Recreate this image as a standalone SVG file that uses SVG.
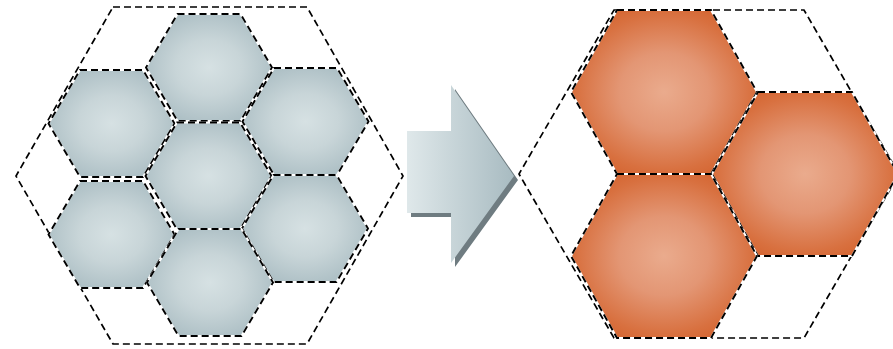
<svg xmlns="http://www.w3.org/2000/svg" xmlns:xlink="http://www.w3.org/1999/xlink" width="893" height="349" viewBox="0 0 893 349">
  <defs>
    <radialGradient id="gGray" cx="0.5" cy="0.5" r="0.58">
      <stop offset="0" stop-color="#d6e1e3"/>
      <stop offset="0.45" stop-color="#c8d5d8"/>
      <stop offset="1" stop-color="#a9bcc2"/>
    </radialGradient>
    <radialGradient id="gOrange" cx="0.5" cy="0.5" r="0.6">
      <stop offset="0" stop-color="#eaab8d"/>
      <stop offset="0.4" stop-color="#e39674"/>
      <stop offset="0.8" stop-color="#d8703f"/>
      <stop offset="1" stop-color="#d3612c"/>
    </radialGradient>
    <linearGradient id="gArrow" x1="0" y1="0" x2="1" y2="0">
      <stop offset="0" stop-color="#dfe8ea"/>
      <stop offset="1" stop-color="#a8bbc1"/>
    </linearGradient>
    <path id="hexS" d="M-31.5,-53.5 L31.5,-53.5 L63,0 L31.5,53.5 L-31.5,53.5 L-63,0 Z"/>
    <path id="hexL" d="M-47,-82 L47,-82 L93,0 L47,82 L-47,82 L-93,0 Z"/>
  </defs>
  <style>
    .big { fill: none; stroke: #000; stroke-width: 1.7; stroke-dasharray: 7 4; }
    .gray { fill: url(#gGray); stroke: #fff; stroke-width: 2; }
    .orange { fill: url(#gOrange); stroke: #fff; stroke-width: 2; }
    .dash { fill: none; stroke: #000; stroke-width: 1.9; stroke-dasharray: 7 4; }
  </style>

  <g id="frame-left">
    <polygon class="big" points="113,7 307,7 403,176 307,344 113,344 16,176"/>
  </g>
  <g id="frame-right">
    <polygon class="big" points="614,10 804,10 899,174 804,338 614,338 519,174"/>
  </g>

  <g id="hex-top"><use xlink:href="#hexS" x="209" y="67.5" class="gray"/><use xlink:href="#hexS" x="209" y="67.5" class="dash"/></g>
  <g id="hex-top-left"><use xlink:href="#hexS" x="111.5" y="123.5" class="gray"/><use xlink:href="#hexS" x="111.5" y="123.5" class="dash"/></g>
  <g id="hex-top-right"><use xlink:href="#hexS" x="305.5" y="121.5" class="gray"/><use xlink:href="#hexS" x="305.5" y="121.5" class="dash"/></g>
  <g id="hex-center"><use xlink:href="#hexS" x="208.5" y="176" class="gray"/><use xlink:href="#hexS" x="208.5" y="176" class="dash"/></g>
  <g id="hex-bottom-left"><use xlink:href="#hexS" x="111.5" y="234.5" class="gray"/><use xlink:href="#hexS" x="111.5" y="234.5" class="dash"/></g>
  <g id="hex-bottom-right"><use xlink:href="#hexS" x="305" y="228.5" class="gray"/><use xlink:href="#hexS" x="305" y="228.5" class="dash"/></g>
  <g id="hex-bottom"><use xlink:href="#hexS" x="210" y="282.5" class="gray"/><use xlink:href="#hexS" x="210" y="282.5" class="dash"/></g>

  <g id="arrow">
    <polygon points="411,135 455,135 455,89 518,180 455,267 455,217 411,217" fill="#6f7c81"/>
    <polygon points="407,131 451,131 451,85 514,176 451,263 451,213 407,213" fill="url(#gArrow)"/>
  </g>

  <g id="orange-top"><use xlink:href="#hexL" x="664" y="92" class="orange"/><use xlink:href="#hexL" x="664" y="92" class="dash"/></g>
  <g id="orange-right"><use xlink:href="#hexL" x="805" y="174" class="orange"/><use xlink:href="#hexL" x="805" y="174" class="dash"/></g>
  <g id="orange-bottom"><use xlink:href="#hexL" x="664" y="256" class="orange"/><use xlink:href="#hexL" x="664" y="256" class="dash"/></g>
</svg>
